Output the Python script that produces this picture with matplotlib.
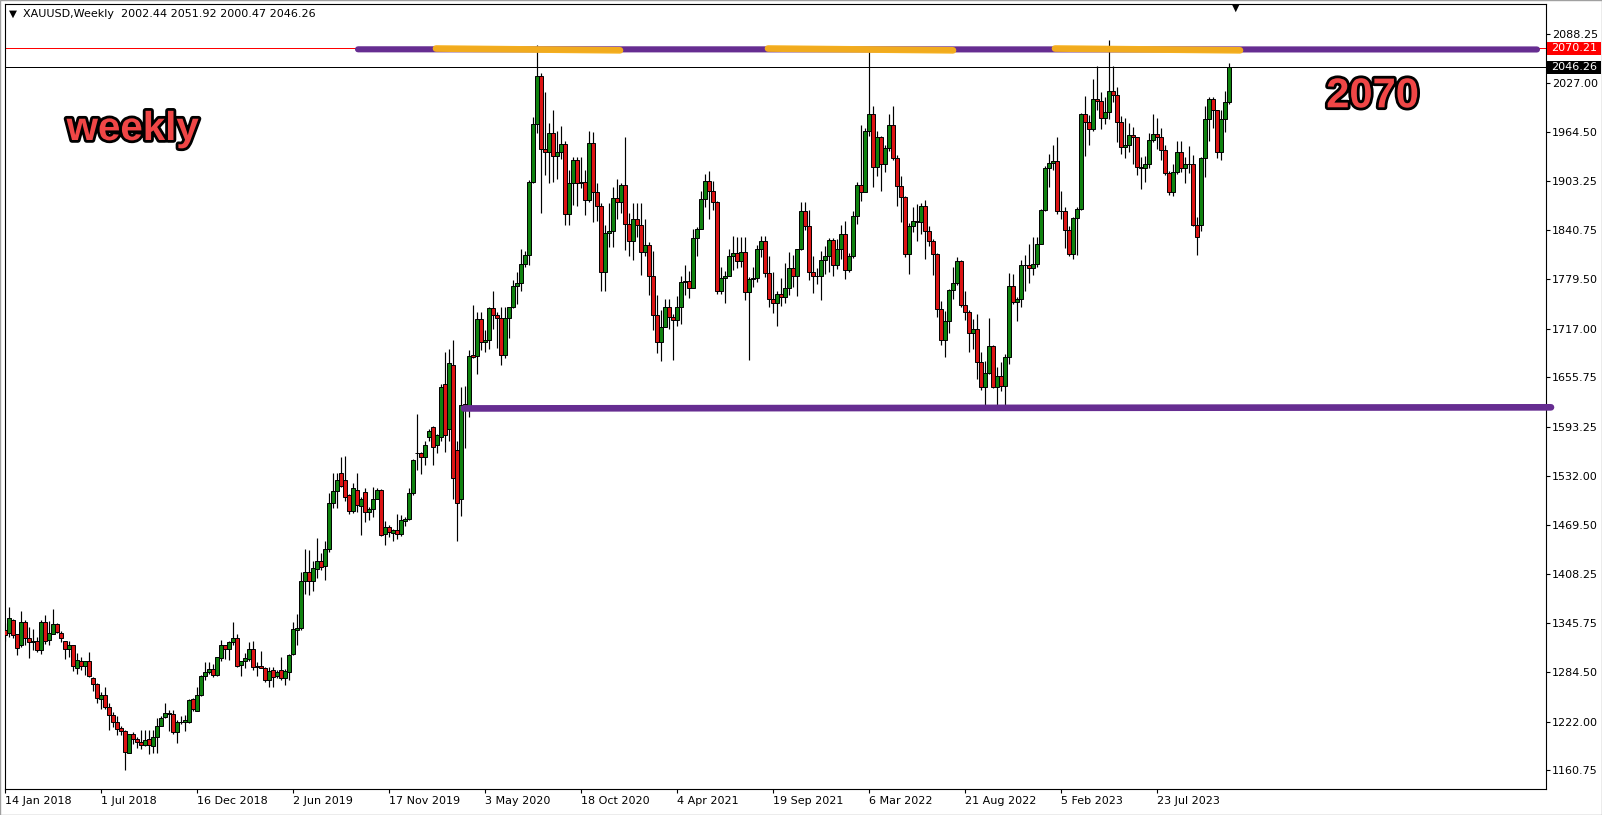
import matplotlib
matplotlib.use('Agg')
import matplotlib.pyplot as plt
import matplotlib.patheffects as pe
from matplotlib.patches import Rectangle
from matplotlib.transforms import blended_transform_factory
import numpy as np
import pandas as pd

# weekly XAUUSD bars, first bar = week of 14 Jan 2018
START = '2018-01-14'

OPEN = [
    1337, 1334, 1350, 1332, 1319, 1347, 1328, 1322, 1323, 1312,
    1347, 1325, 1333, 1345, 1334, 1323, 1314, 1318, 1290, 1299,
    1292, 1299, 1277, 1270, 1250, 1255, 1241, 1231, 1222, 1214,
    1210, 1183, 1207, 1200, 1196, 1193, 1200, 1191, 1203, 1217,
    1228, 1232, 1232, 1209, 1222, 1222, 1222, 1250, 1236, 1255,
    1280, 1285, 1288, 1281, 1302, 1318, 1313, 1322, 1328, 1293,
    1298, 1301, 1313, 1292, 1292, 1290, 1275, 1287, 1280, 1287,
    1277, 1284, 1307, 1337, 1340, 1399, 1410, 1399, 1414, 1424,
    1418, 1439, 1497, 1512, 1535, 1526, 1507, 1488, 1514, 1494,
    1511, 1486, 1490, 1503, 1514, 1458, 1467, 1460, 1464, 1458,
    1475, 1477, 1510, 1561, 1560, 1556, 1580, 1593, 1570, 1581,
    1648, 1591, 1671, 1564, 1502, 1622, 1617, 1684, 1683, 1729,
    1700, 1703, 1743, 1734, 1730, 1684, 1730, 1744, 1771, 1774,
    1798, 1810, 1902, 1975, 2035, 1944, 1940, 1964, 1934, 1940,
    1950, 1862, 1900, 1930, 1900, 1902, 1879, 1951, 1889, 1872,
    1788, 1838, 1840, 1882, 1877, 1898, 1849, 1828, 1855, 1848,
    1814, 1823, 1784, 1734, 1700, 1719, 1745, 1732, 1728, 1744,
    1776, 1777, 1768, 1831, 1843, 1881, 1903, 1891, 1877, 1764,
    1781, 1784, 1808, 1812, 1802, 1814, 1763, 1780, 1781, 1818,
    1827, 1787, 1754, 1750, 1761, 1757, 1768, 1793, 1783, 1818,
    1865, 1846, 1788, 1783, 1783, 1804, 1809, 1829, 1797, 1817,
    1836, 1791, 1808, 1859, 1898, 1889, 1966, 1988, 1921, 1958,
    1925, 1945, 1974, 1932, 1897, 1883, 1811, 1846, 1853, 1851,
    1871, 1840, 1827, 1811, 1742, 1703, 1727, 1766, 1775, 1802,
    1747, 1738, 1712, 1717, 1675, 1644, 1661, 1695, 1644, 1657,
    1645, 1681, 1771, 1751, 1755, 1797, 1797, 1793, 1798, 1824,
    1866, 1920, 1926, 1928, 1865, 1865, 1842, 1811, 1856, 1868,
    1988, 1978, 1969, 2007, 2004, 1983, 1990, 2017, 2011, 1978,
    1946, 1948, 1961, 1958, 1921, 1919, 1925, 1955, 1962, 1959,
    1942, 1913, 1889, 1914, 1940, 1919, 1924, 1925, 1848, 1848,
    1932, 1981, 2006, 1992, 1940, 1981, 2002.44,
]
HIGH = [
    1346, 1367, 1351, 1333, 1361, 1350, 1341, 1339, 1329, 1350,
    1357, 1349, 1364, 1346, 1336, 1324, 1324, 1319, 1308, 1304,
    1299, 1310, 1278, 1271, 1259, 1266, 1245, 1234, 1229, 1217,
    1212, 1207, 1209, 1203, 1211, 1212, 1211, 1211, 1227, 1229,
    1245, 1237, 1237, 1224, 1229, 1230, 1251, 1252, 1266, 1281,
    1297, 1297, 1295, 1304, 1325, 1319, 1324, 1348, 1332, 1299,
    1308, 1322, 1324, 1297, 1311, 1291, 1291, 1291, 1287, 1303,
    1288, 1307, 1348, 1358, 1411, 1439, 1438, 1425, 1453, 1434,
    1449, 1510, 1535, 1535, 1555, 1557, 1509, 1523, 1535, 1505,
    1516, 1492, 1517, 1516, 1515, 1475, 1470, 1465, 1483, 1482,
    1480, 1516, 1553, 1610, 1562, 1575, 1591, 1594, 1584, 1648,
    1688, 1692, 1703, 1575, 1644, 1645, 1690, 1747, 1738, 1738,
    1716, 1745, 1765, 1738, 1745, 1745, 1745, 1779, 1789, 1818,
    1815, 1904, 1984, 2075, 2039, 2015, 1976, 1992, 1966, 1973,
    1954, 1917, 1933, 1933, 1933, 1917, 1966, 1965, 1900, 1875,
    1848, 1875, 1896, 1906, 1900, 1959, 1863, 1875, 1875, 1875,
    1855, 1826, 1815, 1760, 1740, 1755, 1755, 1735, 1758, 1784,
    1797, 1790, 1843, 1845, 1890, 1912, 1916, 1903, 1878, 1795,
    1790, 1818, 1834, 1833, 1832, 1832, 1782, 1795, 1823, 1834,
    1834, 1809, 1788, 1765, 1781, 1800, 1814, 1810, 1818, 1877,
    1877, 1866, 1808, 1793, 1815, 1821, 1831, 1831, 1830, 1848,
    1853, 1813, 1865, 1902, 1974, 1970, 2070, 1998, 1966, 1960,
    1949, 1988, 1998, 1936, 1909, 1884, 1850, 1870, 1874, 1876,
    1879, 1847, 1830, 1812, 1752, 1739, 1767, 1795, 1807, 1804,
    1765, 1740, 1729, 1735, 1688, 1676, 1730, 1696, 1669, 1675,
    1685, 1787, 1786, 1757, 1804, 1810, 1824, 1833, 1833, 1868,
    1922, 1937, 1949, 1959, 1890, 1870, 1847, 1858, 1870, 1989,
    2010, 1986, 2032, 2048, 2015, 2009, 2081, 2048, 2022, 1985,
    1983, 1976, 1971, 1959, 1933, 1935, 1963, 1987, 1982, 1970,
    1948, 1916, 1925, 1953, 1953, 1933, 1947, 1936, 1858, 1933,
    1997, 2009, 2009, 1993, 1993, 2017, 2051.92,
]
LOW = [
    1324, 1329, 1327, 1306, 1316, 1318, 1302, 1312, 1310, 1307,
    1320, 1318, 1332, 1334, 1322, 1301, 1303, 1286, 1282, 1287,
    1281, 1278, 1261, 1245, 1238, 1238, 1211, 1215, 1205, 1205,
    1161, 1182, 1194, 1189, 1188, 1191, 1181, 1183, 1183, 1216,
    1227, 1210, 1206, 1195, 1219, 1210, 1220, 1236, 1235, 1254,
    1275, 1282, 1278, 1280, 1298, 1301, 1300, 1319, 1291, 1280,
    1290, 1299, 1287, 1280, 1289, 1272, 1266, 1266, 1277, 1275,
    1268, 1275, 1306, 1318, 1338, 1383, 1382, 1386, 1403, 1413,
    1400, 1436, 1491, 1491, 1518, 1500, 1483, 1485, 1486, 1457,
    1473, 1476, 1480, 1502, 1456, 1444, 1455, 1449, 1452, 1456,
    1469, 1476, 1508, 1539, 1534, 1545, 1575, 1545, 1561, 1575,
    1562, 1575, 1502, 1449, 1481, 1567, 1606, 1680, 1660, 1690,
    1688, 1692, 1717, 1693, 1671, 1680, 1705, 1743, 1748, 1765,
    1795, 1797, 1900, 1963, 1863, 1911, 1901, 1902, 1906, 1931,
    1848, 1848, 1873, 1872, 1894, 1860, 1877, 1851, 1853, 1764,
    1764, 1820, 1820, 1855, 1863, 1816, 1808, 1803, 1832, 1785,
    1808, 1760, 1716, 1687, 1676, 1719, 1717, 1677, 1721, 1723,
    1760, 1756, 1768, 1808, 1843, 1870, 1855, 1866, 1761, 1761,
    1750, 1784, 1791, 1794, 1795, 1753, 1678, 1770, 1776, 1807,
    1782, 1745, 1737, 1721, 1746, 1749, 1760, 1770, 1758, 1816,
    1842, 1778, 1762, 1773, 1753, 1786, 1789, 1783, 1792, 1805,
    1780, 1788, 1806, 1849, 1878, 1889, 1960, 1895, 1910, 1890,
    1915, 1941, 1929, 1872, 1851, 1807, 1786, 1839, 1828, 1836,
    1805, 1821, 1785, 1732, 1697, 1681, 1712, 1754, 1772, 1745,
    1728, 1688, 1691, 1654, 1640, 1615, 1660, 1642, 1617, 1638,
    1616, 1673, 1748, 1727, 1745, 1765, 1774, 1785, 1795, 1824,
    1865, 1896, 1917, 1861, 1855, 1819, 1809, 1805, 1810, 1867,
    1934, 1949, 1966, 1992, 1969, 1975, 1981, 2003, 1952, 1937,
    1932, 1940, 1925, 1911, 1893, 1902, 1920, 1952, 1943, 1929,
    1911, 1885, 1884, 1912, 1914, 1901, 1913, 1846, 1810, 1840,
    1908, 1953, 1970, 1932, 1930, 1965, 2000.47,
]
CLOSE = [
    1331, 1352, 1331, 1315, 1347, 1328, 1322, 1323, 1312, 1347,
    1324, 1334, 1345, 1335, 1328, 1313, 1318, 1292, 1300, 1292,
    1298, 1280, 1269, 1252, 1255, 1240, 1230, 1222, 1213, 1210,
    1184, 1206, 1200, 1196, 1193, 1199, 1192, 1203, 1217, 1227,
    1233, 1233, 1209, 1221, 1221, 1224, 1249, 1238, 1255, 1280,
    1285, 1288, 1281, 1303, 1318, 1314, 1322, 1327, 1292, 1298,
    1302, 1313, 1291, 1291, 1290, 1275, 1286, 1278, 1285, 1277,
    1286, 1306, 1339, 1340, 1399, 1410, 1399, 1415, 1424, 1417,
    1440, 1497, 1512, 1526, 1519, 1505, 1488, 1516, 1495, 1503,
    1486, 1490, 1503, 1514, 1457, 1467, 1461, 1463, 1458, 1476,
    1477, 1510, 1552, 1560, 1556, 1570, 1588, 1568, 1583, 1643,
    1583, 1674, 1529, 1497, 1621, 1620, 1683, 1682, 1729, 1700,
    1703, 1743, 1734, 1730, 1684, 1730, 1744, 1771, 1774, 1798,
    1810, 1902, 1975, 2035, 1944, 1940, 1964, 1934, 1940, 1950,
    1862, 1900, 1930, 1900, 1902, 1879, 1951, 1889, 1872, 1788,
    1838, 1840, 1882, 1877, 1898, 1849, 1828, 1855, 1848, 1814,
    1823, 1784, 1734, 1700, 1719, 1745, 1732, 1728, 1744, 1776,
    1777, 1768, 1831, 1843, 1881, 1903, 1891, 1877, 1764, 1781,
    1784, 1808, 1812, 1802, 1814, 1763, 1780, 1781, 1818, 1827,
    1787, 1754, 1750, 1761, 1757, 1768, 1793, 1783, 1818, 1865,
    1846, 1788, 1783, 1783, 1804, 1809, 1829, 1797, 1817, 1836,
    1791, 1808, 1859, 1898, 1889, 1966, 1988, 1921, 1958, 1925,
    1945, 1974, 1932, 1897, 1883, 1811, 1846, 1853, 1851, 1871,
    1840, 1827, 1811, 1742, 1703, 1727, 1766, 1775, 1802, 1747,
    1738, 1712, 1717, 1675, 1644, 1661, 1695, 1644, 1657, 1645,
    1681, 1771, 1751, 1755, 1797, 1797, 1793, 1798, 1824, 1866,
    1920, 1926, 1928, 1865, 1865, 1842, 1811, 1856, 1868, 1988,
    1978, 1969, 2007, 2004, 1983, 1990, 2017, 2011, 1978, 1946,
    1948, 1961, 1958, 1921, 1919, 1925, 1955, 1962, 1959, 1942,
    1913, 1889, 1914, 1940, 1919, 1924, 1925, 1848, 1833, 1932,
    1981, 2006, 1992, 1940, 1981, 2002, 2046.26,
]

XTICK_LABELS = ['14 Jan 2018', '1 Jul 2018', '16 Dec 2018', '2 Jun 2019',
                '17 Nov 2019', '3 May 2020', '18 Oct 2020', '4 Apr 2021',
                '19 Sep 2021', '6 Mar 2022', '21 Aug 2022', '5 Feb 2023',
                '23 Jul 2023']
YTICKS = [2088.25, 2027.00, 1964.50, 1903.25, 1840.75, 1779.50, 1717.00,
          1655.75, 1593.25, 1532.00, 1469.50, 1408.25, 1345.75, 1284.50,
          1222.00, 1160.75]

ASK = 2070.21
BID = 2046.26
HEADER = 'XAUUSD,Weekly  2002.44 2051.92 2000.47 2046.26'

# hand drawn objects: (bar from, bar to, price from, price to)
RESISTANCE = (88.25, 383.0, 2069.0, 2068.8)
SUPPORT = (114.75, 386.5, 1616.6, 1618.0)
TOUCHES = [(107.75, 153.75, 2070.0, 2067.7),
           (190.75, 237.0, 2070.0, 2067.7),
           (262.5, 308.75, 2070.0, 2067.7)]

GREEN = '#0f820f'
RED = '#dc1414'
PURPLE = '#662d91'
ORANGE = '#f7b01a'
TEXT_RED = '#f04646'

W, H = 1602, 815


def main():
    o = np.array(OPEN, dtype=float)
    hi = np.array(HIGH, dtype=float)
    lo = np.array(LOW, dtype=float)
    c = np.array(CLOSE, dtype=float)
    x = np.arange(len(c))
    dates = pd.date_range(START, periods=len(c), freq='7D')

    fig = plt.figure(figsize=(W / 100, H / 100), dpi=100)
    fig.patch.set_facecolor('white')
    # plot frame in pixels: left 4.7, right 1545.7, top 4.3, bottom 789.3
    ax = fig.add_axes([4.7 / W, (H - 789.3) / H, 1541 / W, 785 / H])
    ax.set_xlim(-0.075, 385.175)
    ax.set_ylim(1136.8, 2125.7)

    # ask / bid lines
    ax.axhline(ASK, color='#ff0000', lw=0.7, zorder=1, antialiased=False)
    ax.axhline(BID, color='black', lw=0.7, zorder=1, antialiased=False)

    # candles
    up = c >= o
    ax.vlines(x, lo, hi, color='black', lw=0.85, zorder=2)
    body_lo = np.minimum(o, c)
    body_h = np.maximum(np.abs(c - o), 0.6)
    ax.bar(x, body_h, bottom=body_lo, width=0.78,
           color=np.where(up, GREEN, RED), edgecolor='black', linewidth=0.7,
           zorder=3)

    # trend lines
    ax.plot(RESISTANCE[:2], RESISTANCE[2:], color=PURPLE, lw=4.4,
            solid_capstyle='round', zorder=4)
    ax.plot(SUPPORT[:2], SUPPORT[2:], color=PURPLE, lw=4.8,
            solid_capstyle='round', zorder=4, clip_on=False)
    for seg in TOUCHES:
        ax.plot(seg[:2], seg[2:], color=ORANGE, lw=4.8,
                solid_capstyle='round', zorder=5, alpha=0.97)

    # axes styling
    for sp in ax.spines.values():
        sp.set_color('black')
        sp.set_linewidth(0.8)
    ax.yaxis.tick_right()
    ax.set_yticks(YTICKS)
    ax.set_yticklabels([f'{v:.2f}' for v in YTICKS])
    ax.tick_params(axis='y', direction='out', length=3, width=0.8,
                   labelsize=8, pad=1.5, colors='black')

    tick_dates = pd.to_datetime(XTICK_LABELS, format='%d %b %Y')
    xt = [dates.get_loc(d) for d in tick_dates]
    ax.set_xticks(xt)
    ax.set_xticklabels(XTICK_LABELS, ha='left')
    ax.tick_params(axis='x', direction='out', length=3, width=0.8,
                   labelsize=8, pad=2, colors='black')

    # price tags on the right scale
    tr = blended_transform_factory(ax.transAxes, ax.transData)
    px = (ax.get_ylim()[1] - ax.get_ylim()[0]) / 785
    for lvl, bg in ((ASK, '#ff0000'), (BID, 'black')):
        ax.add_patch(Rectangle((1.0007, lvl - 6.2 * px), 54 / 1541, 12.4 * px,
                               transform=tr, facecolor=bg, edgecolor='none',
                               clip_on=False, zorder=6))
        ax.text(1.0007 + 27 / 1541, lvl, f'{lvl:.2f}', transform=tr,
                color='white', fontsize=8, ha='center', va='center',
                clip_on=False, zorder=7)

    # header and markers
    fig.text(23 / W, 1 - 14 / H, HEADER, fontsize=8, va='center', ha='left')
    fig.text(12.5 / W, 1 - 14 / H, '\u25bc', fontsize=7.5, va='center',
             ha='center')
    fig.text(1236 / W, 1 - 7.5 / H, '\u25bc', fontsize=7, va='center',
             ha='center')

    # annotations
    outline = [pe.withStroke(linewidth=4, foreground='black')]
    fig.text(132.5 / W, 1 - 140 / H, 'weekly', fontsize=29, fontweight='bold',
             family='Liberation Sans', color=TEXT_RED, ha='center',
             va='baseline', path_effects=outline)
    fig.text(1372.5 / W, 1 - 107.3 / H, '2070', fontsize=30,
             fontweight='bold', family='Liberation Sans', color=TEXT_RED,
             ha='center', va='baseline', path_effects=outline)

    # window frame
    fig.patches.append(Rectangle((0, 0), 1, 1, transform=fig.transFigure,
                                 fill=False, edgecolor='#a0a0a0', lw=1))

    fig.savefig('out.png', dpi=100)
    plt.close(fig)


if __name__ == '__main__':
    main()
